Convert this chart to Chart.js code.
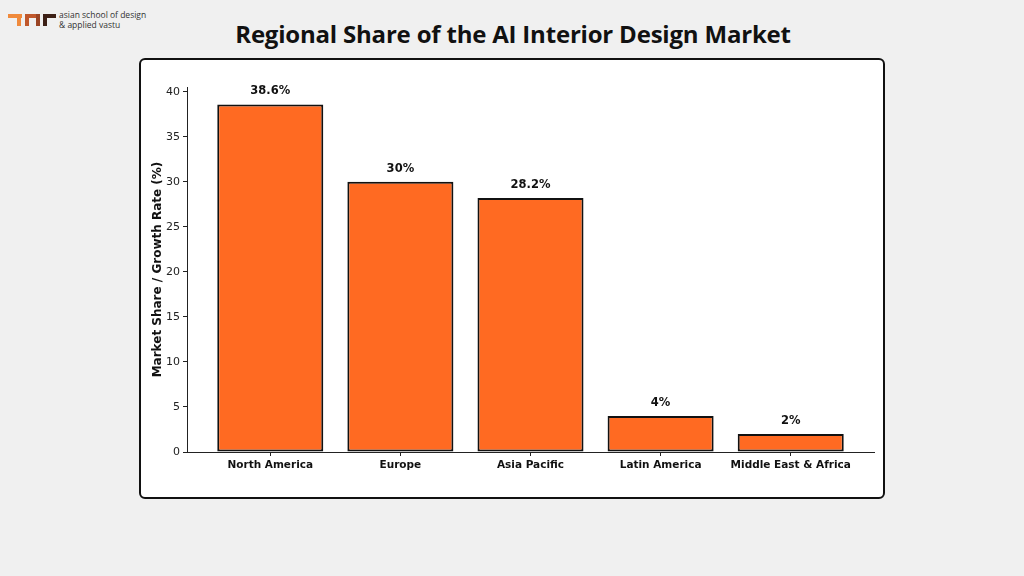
<!DOCTYPE html>
<html>
<head>
<meta charset="utf-8">
<script src="https://cdn.jsdelivr.net/npm/chart.js@4.4.1/dist/chart.umd.min.js"></script>
<style>
	html, body { margin: 0; padding: 0; }
	body { width: 1024px; height: 576px; background: #f0f0f0; position: relative; overflow: hidden; font-family: "DejaVu Sans", sans-serif; }
	#title { position: absolute; left: 0; width: 1026px; top: 17px; text-align: center; font-family: "Open Sans", sans-serif; font-weight: 700; font-size: 24px; color: #111; letter-spacing: -0.2px; }
	#box { position: absolute; left: 139px; top: 58px; width: 742px; height: 437px; background: #fff; border: 2px solid #111; border-radius: 6px; }
	#logo { position: absolute; left: 8px; top: 12px; }
	.lg { position: absolute; }
	#logoText { position: absolute; left: 59px; top: 10px; font-family: "Open Sans", sans-serif; font-size: 8.5px; line-height: 10px; color: #333; white-space: nowrap; }
	#chart { position: absolute; left: 0; top: 0; }
</style>
</head>
<body>
<div id="logo">
	<div class="lg" style="left:0;top:2px;width:14px;height:4px;background:#f08a3c;"></div>
	<div class="lg" style="left:9px;top:2px;width:4px;height:12px;background:#f08a3c;"></div>
	<div class="lg" style="left:17px;top:2px;width:15px;height:4px;background:#c0582c;border-radius:4px 4px 0 0;"></div>
	<div class="lg" style="left:17px;top:2px;width:4px;height:12px;background:#c0582c;"></div>
	<div class="lg" style="left:28px;top:2px;width:4px;height:12px;background:#9a4424;"></div>
	<div class="lg" style="left:35px;top:2px;width:13px;height:4px;background:#3d2016;border-radius:4px 0 0 0;"></div>
	<div class="lg" style="left:35px;top:2px;width:4px;height:12px;background:#3d2016;"></div>
</div>
<div id="logoText">asian school of design<br>&amp; applied vastu</div>
<div id="title">Regional Share of the AI Interior Design Market</div>
<div id="box"></div>
<canvas id="chart" width="1024" height="576"></canvas>
<script>
	// Data.
	var regions = ['North America', 'Europe', 'Asia Pacific', 'Latin America', 'Middle East & Africa'];
	var shares = [38.6, 30, 28.2, 4, 2];
	var shareLabels = ['38.6%', '30%', '28.2%', '4%', '2%'];
	var yTicks = [0, 5, 10, 15, 20, 25, 30, 35, 40];

	var BAR_COLOR = '#ff6a22';
	var TEXT = '#222';

	// Value labels above the bars.
	var valueLabels = {
		id: 'valueLabels',
		afterDatasetsDraw: function (chart) {
			var ctx = chart.ctx;
			var meta = chart.getDatasetMeta(0);
			ctx.save();
			ctx.font = 'bold 11.5px "DejaVu Sans"';
			ctx.fillStyle = '#111';
			ctx.textAlign = 'center';
			ctx.textBaseline = 'middle';
			meta.data.forEach(function (bar, i) {
				ctx.fillText(shareLabels[i], bar.x, bar.y - 13);
			});
			ctx.restore();
		}
	};

	new Chart(document.getElementById('chart'), {
		type: 'bar',
		data: {
			datasets: [{
				data: shares.map(function (v, i) { return { x: i, y: v }; }),
				backgroundColor: BAR_COLOR,
				borderColor: '#111',
				borderWidth: 2,
				borderSkipped: false,
				barPercentage: 0.815,
				categoryPercentage: 1.0
			}]
		},
		options: {
			responsive: false,
			animation: false,
			layout: { padding: { left: 145, right: 150, top: 87, bottom: 94 } },
			plugins: { legend: { display: false }, tooltip: { enabled: false } },
			scales: {
				x: {
					type: 'linear',
					min: -0.64,
					max: 4.64,
					offset: false,
					afterBuildTicks: function (scale) {
						scale.ticks = regions.map(function (r, i) { return { value: i }; });
					},
					afterFit: function (scale) { scale.height = 30; },
					grid: { offset: false, drawOnChartArea: false, tickLength: 4, color: '#222' },
					border: { color: '#222', width: 1 },
					ticks: {
						autoSkip: false,
						maxRotation: 0,
						padding: 3,
						color: '#111',
						font: { family: 'DejaVu Sans', weight: 'bold', size: 10.5 },
						callback: function (v) { return regions[v]; }
					}
				},
				y: {
					min: 0,
					max: 40.53,
					afterBuildTicks: function (scale) {
						scale.ticks = yTicks.map(function (v) { return { value: v }; });
					},
					afterFit: function (scale) { scale.width = 42; },
					grid: { drawOnChartArea: false, tickLength: 4, color: '#222' },
					border: { color: '#222', width: 1 },
					ticks: {
						padding: 3,
						color: TEXT,
						font: { family: 'DejaVu Sans', size: 11 }
					},
					title: {
						display: true,
						text: 'Market Share / Growth Rate (%)',
						color: '#111',
						padding: { top: 6, bottom: 0 },
						font: { family: 'DejaVu Sans', weight: 'bold', size: 12 }
					}
				}
			}
		},
		plugins: [valueLabels]
	});
</script>
</body>
</html>
